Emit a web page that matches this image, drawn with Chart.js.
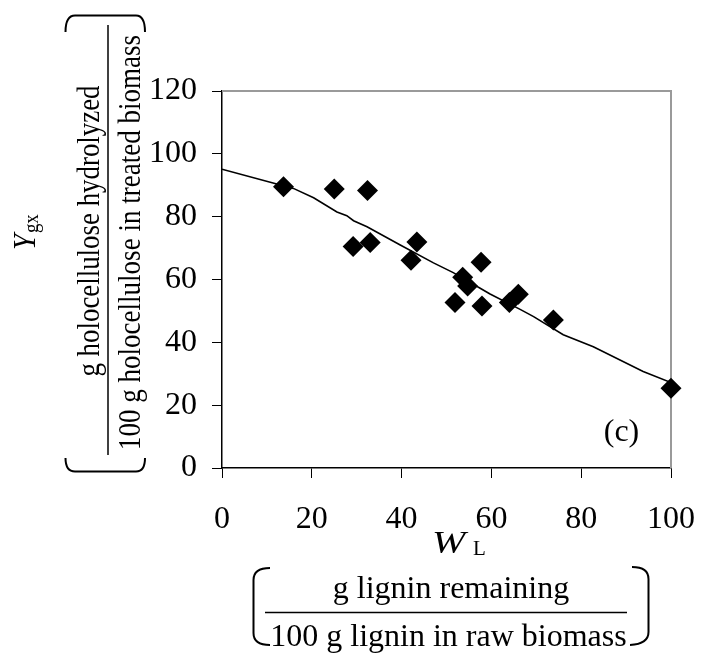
<!DOCTYPE html>
<html><head><meta charset="utf-8">
<script src="https://cdn.jsdelivr.net/npm/chart.js@4"></script>
<style>html,body{margin:0;padding:0;background:#fff;} canvas{display:block;}</style>
</head><body>
<canvas id="c" width="701" height="656"></canvas>
<script>
// Measured data (W_L, Y_gx)
const ligninRemaining = [13.7, 25.0, 32.4, 29.2, 33.0, 43.4, 42.1, 57.7, 53.6, 54.7, 51.9, 57.9, 64.0, 66.0, 73.8, 100];
const holocelluloseYield = [89.5, 88.8, 88.3, 70.5, 71.8, 71.9, 66.1, 65.5, 60.7, 57.9, 52.7, 51.6, 52.7, 55.3, 47.1, 25.4];
// Model curve
const curveX = [0, 15.9, 20.4, 25.6, 27.8, 29.3, 32.3, 39.7, 47.1, 51.5, 57.5, 59.7, 66.4, 69.4, 76.0, 82.7, 93.8, 100];
const curveY = [95.1, 89.0, 86.0, 81.5, 80.3, 78.7, 76.8, 71.0, 65.3, 62.2, 57.2, 55.4, 50.5, 48.2, 42.4, 38.6, 30.7, 27.2];
const xTickValues = [0, 20, 40, 60, 80, 100];
const yTickValues = [0, 20, 40, 60, 80, 100, 120];
const panelLabel = '(c)';
const xTitleMain = 'W', xTitleSub = 'L';
const xUnitTop = 'g lignin remaining', xUnitBottom = '100 g lignin in raw biomass';
const yTitleMain = 'Y', yTitleSub = 'gx';
const yUnitTop = 'g holocellulose hydrolyzed', yUnitBottom = '100 g holocellulose in treated biomass';

const SERIF = "'Liberation Serif', 'Times New Roman', serif";

const decor = {
  id: 'decor',
  beforeDatasetsDraw(chart) {
    const {ctx, chartArea: a} = chart;
    ctx.save();
    ctx.strokeStyle = '#9a9a9a';
    ctx.lineWidth = 2;
    ctx.beginPath();
    ctx.moveTo(a.left, a.top);
    ctx.lineTo(a.right, a.top);
    ctx.lineTo(a.right, a.bottom);
    ctx.stroke();
    ctx.restore();
  },
  afterDraw(chart) {
    const {ctx} = chart;
    ctx.save();
    ctx.fillStyle = '#000';
    ctx.strokeStyle = '#000';
    ctx.textBaseline = 'alphabetic';
    // panel label
    ctx.font = '32px ' + SERIF;
    ctx.textAlign = 'center';
    ctx.fillText(panelLabel, 621.5, 441);
    // x title
    ctx.textAlign = 'left';
    ctx.save();
    ctx.translate(432, 553);
    ctx.scale(1.25, 1);
    ctx.font = 'italic 32px ' + SERIF;
    ctx.fillText(xTitleMain, 0, 0);
    ctx.restore();
    ctx.font = '21px ' + SERIF;
    ctx.fillText(xTitleSub, 473, 555);
    // x unit fraction
    ctx.font = '32px ' + SERIF;
    ctx.textAlign = 'center';
    ctx.fillText(xUnitTop, 451, 598);
    ctx.fillText(xUnitBottom, 448.5, 646);
    ctx.lineWidth = 1.5;
    ctx.beginPath(); ctx.moveTo(265, 612.5); ctx.lineTo(627, 612.5); ctx.stroke();
    ctx.lineWidth = 2;
    ctx.beginPath();
    ctx.moveTo(270, 568); ctx.quadraticCurveTo(253.5, 568, 253.5, 580);
    ctx.lineTo(253.5, 633); ctx.quadraticCurveTo(253.5, 645, 270, 645);
    ctx.stroke();
    ctx.beginPath();
    ctx.moveTo(632, 567); ctx.quadraticCurveTo(648.5, 567, 648.5, 579);
    ctx.lineTo(648.5, 632); ctx.quadraticCurveTo(648.5, 644, 630, 645);
    ctx.stroke();
    // y title (rotated)
    ctx.save();
    ctx.translate(35, 250);
    ctx.rotate(-Math.PI / 2);
    ctx.scale(0.9, 1);
    ctx.textAlign = 'left';
    ctx.font = 'italic 32px ' + SERIF;
    ctx.fillText(yTitleMain, 0, 0);
    const yW = ctx.measureText(yTitleMain).width;
    ctx.font = '21px ' + SERIF;
    ctx.fillText(yTitleSub, yW + 1, 3);
    ctx.restore();
    // y unit fraction (text is narrower along its length in the original)
    ctx.font = '32px ' + SERIF;
    ctx.save();
    ctx.translate(99, 231);
    ctx.rotate(-Math.PI / 2);
    ctx.scale(0.84, 1);
    ctx.textAlign = 'center';
    ctx.fillText(yUnitTop, 0, 0);
    ctx.restore();
    ctx.save();
    ctx.translate(140, 242.5);
    ctx.rotate(-Math.PI / 2);
    ctx.scale(0.845, 1);
    ctx.textAlign = 'center';
    ctx.fillText(yUnitBottom, 0, 0);
    ctx.restore();
    ctx.lineWidth = 1.5;
    ctx.beginPath(); ctx.moveTo(108, 25); ctx.lineTo(108, 455); ctx.stroke();
    ctx.lineWidth = 2;
    ctx.beginPath();
    ctx.moveTo(65.5, 32); ctx.quadraticCurveTo(65.5, 15.5, 75, 15.5);
    ctx.lineTo(136, 15.5); ctx.quadraticCurveTo(145, 15.5, 145, 32);
    ctx.stroke();
    ctx.beginPath();
    ctx.moveTo(65.5, 458); ctx.quadraticCurveTo(65.5, 471.5, 75, 471.5);
    ctx.lineTo(136, 471.5); ctx.quadraticCurveTo(145, 471.5, 145, 458);
    ctx.stroke();
    ctx.restore();
  }
};

const tickFont = {family: SERIF, size: 32};

new Chart(document.getElementById('c'), {
  type: 'scatter',
  data: {
    datasets: [
      {
        label: 'Model',
        data: curveX.map((x, i) => ({x, y: curveY[i]})),
        showLine: true,
        borderColor: '#000',
        borderWidth: 1.6,
        pointRadius: 0,
        tension: 0,
        fill: false,
        order: 2
      },
      {
        label: 'Experimental',
        data: ligninRemaining.map((x, i) => ({x, y: holocelluloseYield[i]})),
        pointStyle: 'rectRot',
        pointRadius: 10.5,
        pointHoverRadius: 10.5,
        backgroundColor: '#000',
        borderColor: '#000',
        borderWidth: 0,
        clip: false,
        order: 1
      }
    ]
  },
  options: {
    responsive: false,
    animation: false,
    devicePixelRatio: 1,
    layout: {padding: {left: 0, top: 91, right: 30, bottom: 108}},
    plugins: {legend: {display: false}, tooltip: {enabled: false}, title: {display: false}},
    scales: {
      x: {
        type: 'linear', min: 0, max: 100,
        afterBuildTicks: s => { s.ticks = xTickValues.map(v => ({value: v})); },
        afterFit: s => { s.height = 80; s.paddingLeft = 0; s.paddingRight = 0; },
        ticks: {font: tickFont, color: '#000', padding: 22, maxRotation: 0},
        grid: {drawOnChartArea: false, tickLength: 10, color: '#000', lineWidth: 1},
        border: {display: true, color: '#000', width: 1.5}
      },
      y: {
        type: 'linear', min: 0, max: 120,
        afterBuildTicks: s => { s.ticks = yTickValues.map(v => ({value: v})); },
        afterFit: s => { s.width = 222; s.paddingTop = 0; s.paddingBottom = 0; },
        ticks: {font: tickFont, color: '#000', padding: 15},
        grid: {drawOnChartArea: false, tickLength: 10, color: '#000', lineWidth: 1},
        border: {display: true, color: '#000', width: 1.5}
      }
    }
  },
  plugins: [decor]
});
</script>
</body></html>
